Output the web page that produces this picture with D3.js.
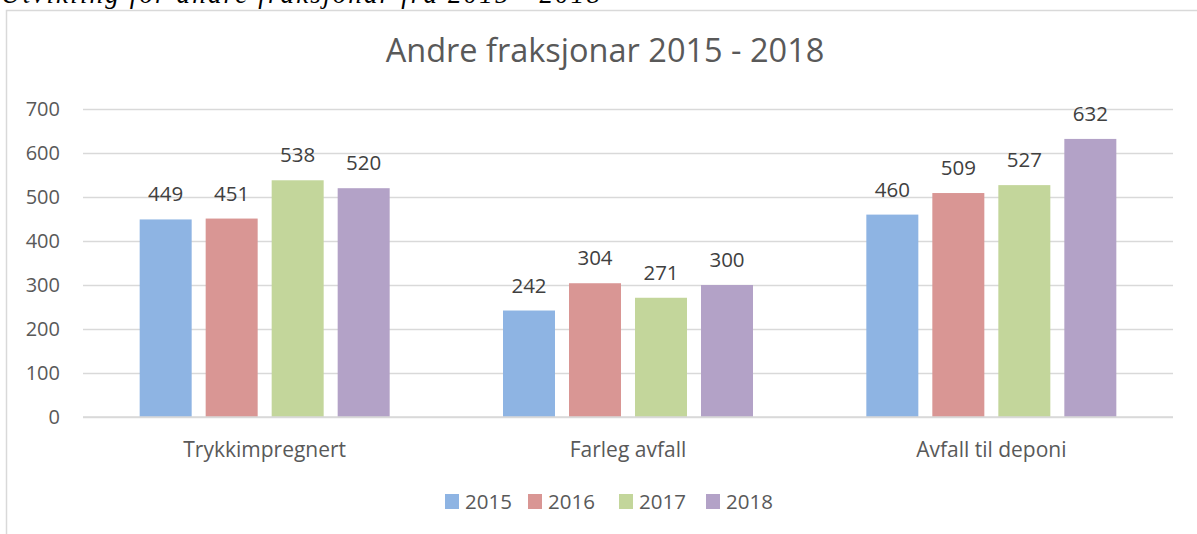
<!DOCTYPE html>
<head>
    <meta charset="utf-8">
    <script src="https://d3js.org/d3.v7.min.js"></script>
    <style>
        body { margin: 0; background: #fff; }
        text { font-family: "Open Sans", "Noto Sans", sans-serif; }
    </style>
</head>

<body>
    <div id="chart"></div>
</body>

<script>
    const categories = ["Trykkimpregnert", "Farleg avfall", "Avfall til deponi"];
    const years = ["2015", "2016", "2017", "2018"];
    const values2015 = [449, 242, 460];
    const values2016 = [451, 304, 509];
    const values2017 = [538, 271, 527];
    const values2018 = [520, 300, 632];
    const yTicks = [0, 100, 200, 300, 400, 500, 600, 700];
    const colors = ["#8EB4E3", "#D99694", "#C3D69B", "#B3A2C7"];

    const series = [values2015, values2016, values2017, values2018];
    const data = [];
    categories.forEach((c, i) => {
        years.forEach((yr, j) => data.push({cat: c, year: yr, value: series[j][i]}));
    });

    const W = 1197, H = 534;
    const margin = {top: 109, right: 24, bottom: 117, left: 83},
        width = W - margin.left - margin.right,
        height = H - margin.top - margin.bottom;

    const svg = d3.select("#chart").append("svg")
        .attr("width", W)
        .attr("height", H);

    // caption cut off at the top of the page
    svg.append("text")
        .attr("x", 1)
        .attr("y", 3)
        .attr("textLength", 599)
        .style("font-family", "'Liberation Serif', serif")
        .style("font-style", "italic")
        .style("font-size", "27px")
        .style("fill", "#000")
        .text("Utvikling for andre fraksjonar frå 2015 - 2018");

    // chart frame
    svg.append("path")
        .attr("d", `M6.5,${H} V10.5 H${W}`)
        .attr("fill", "none")
        .attr("stroke", "#d9d9d9")
        .attr("stroke-width", 1.5);

    // Title
    svg.append("text")
        .attr("x", 605)
        .attr("y", 62)
        .attr("text-anchor", "middle")
        .style("font-size", "32.5px")
        .style("fill", "#595959")
        .text("Andre fraksjonar 2015 - 2018");

    const g = svg.append("g")
        .attr("transform", `translate(${margin.left},${margin.top})`);

    const x0 = d3.scaleBand()
        .domain(categories)
        .range([0, width]);

    const x1 = d3.scaleBand()
        .domain(years)
        .range([0, 250])
        .paddingInner(14 / 66);

    const y = d3.scaleLinear()
        .domain([0, 700])
        .range([height, 0]);

    const color = d3.scaleOrdinal().domain(years).range(colors);

    // gridlines
    g.append("g")
        .call(d3.axisLeft(y).tickValues(yTicks).tickSize(-width).tickFormat(""))
        .call(a => a.select(".domain").remove())
        .call(a => a.selectAll("line").attr("stroke", "#d9d9d9").attr("stroke-width", 1.3));

    // Y tick labels
    g.append("g")
        .call(d3.axisLeft(y).tickValues(yTicks).tickSize(0).tickPadding(23))
        .call(a => a.select(".domain").remove())
        .call(a => a.selectAll("text").style("font-size", "20px").style("fill", "#595959")
            .style("font-family", "'Open Sans', sans-serif"));

    const off = (x0.bandwidth() - 250) / 2;

    // bars
    g.selectAll("rect.bar")
        .data(data)
        .enter()
        .append("rect")
        .attr("class", "bar")
        .attr("x", d => x0(d.cat) + off + x1(d.year))
        .attr("y", d => y(d.value))
        .attr("width", x1.bandwidth())
        .attr("height", d => height - y(d.value))
        .attr("fill", d => color(d.year));

    // value labels
    g.selectAll("text.val")
        .data(data)
        .enter()
        .append("text")
        .attr("class", "val")
        .attr("x", d => x0(d.cat) + off + x1(d.year) + x1.bandwidth() / 2)
        .attr("y", d => y(d.value) - 18)
        .attr("text-anchor", "middle")
        .style("font-size", "20.5px")
        .style("fill", "#404040")
        .text(d => d.value);

    // baseline
    g.append("line")
        .attr("x1", 0).attr("x2", width)
        .attr("y1", height).attr("y2", height)
        .attr("stroke", "#d9d9d9")
        .attr("stroke-width", 1.3);

    // category labels
    g.selectAll("text.cat")
        .data(categories)
        .enter()
        .append("text")
        .attr("class", "cat")
        .attr("x", d => x0(d) + x0.bandwidth() / 2)
        .attr("y", height + 40)
        .attr("text-anchor", "middle")
        .style("font-size", "21px")
        .style("fill", "#595959")
        .text(d => d);

    // legend
    const legendX = [445, 528, 619, 706];
    const legend = svg.append("g")
        .selectAll("g")
        .data(years)
        .enter()
        .append("g")
        .attr("transform", (d, i) => `translate(${legendX[i]},494)`);

    legend.append("rect")
        .attr("width", 14)
        .attr("height", 15)
        .attr("fill", d => color(d));

    legend.append("text")
        .attr("x", 20)
        .attr("y", 15)
        .style("font-size", "20.5px")
        .style("fill", "#595959")
        .text(d => d);
</script>
</html>
